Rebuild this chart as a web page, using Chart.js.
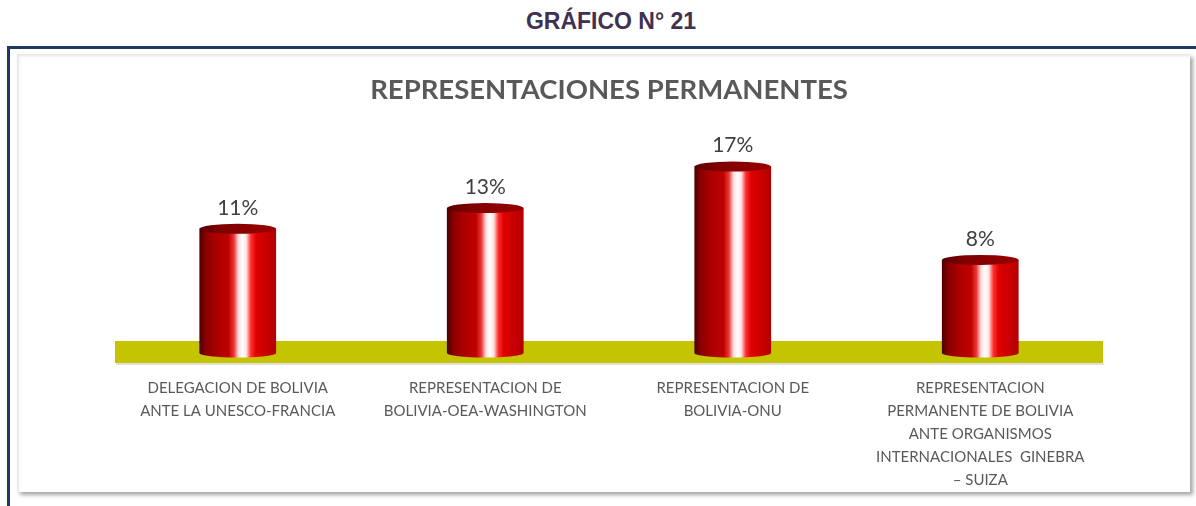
<!DOCTYPE html>
<html>
<head>
<meta charset="utf-8">
<script src="https://cdn.jsdelivr.net/npm/chart.js@4.4.1/dist/chart.umd.min.js"></script>
<style>
  html, body { margin: 0; padding: 0; background: #fff; }
  #page { position: relative; width: 1196px; height: 506px; overflow: hidden; }
  #heading {
    position: absolute; left: 0; width: 1222px; top: 8px; text-align: center;
    font: bold 23px "Liberation Sans", Arial, sans-serif; color: #403152;
  }
  #frame {
    position: absolute; left: 7px; top: 46px; width: 1200px; height: 480px;
    border-top: 3px solid #1f3864; border-left: 3px solid #1f3864;
  }
  #panel {
    position: absolute; left: 17px; top: 54px; width: 1173px; height: 438px;
    background: #fff;
    box-shadow: 3px 3px 4px rgba(0,0,0,0.35), inset 2px 2px 3px rgba(0,0,0,0.10);
  }
  #chartBox { position: absolute; left: 0; top: 0; width: 1196px; height: 533px; }
</style>
</head>
<body>
<div id="page">
  <div id="heading">GRÁFICO N° 21</div>
  <div id="frame"></div>
  <div id="panel"></div>
  <div id="chartBox"><canvas id="chart"></canvas></div>
</div>
<script>
// data
const categories = [
  ["DELEGACION DE BOLIVIA", "ANTE LA UNESCO-FRANCIA"],
  ["REPRESENTACION DE", "BOLIVIA-OEA-WASHINGTON"],
  ["REPRESENTACION DE", "BOLIVIA-ONU"],
  ["REPRESENTACION", "PERMANENTE DE BOLIVIA", "ANTE ORGANISMOS", "INTERNACIONALES  GINEBRA", "– SUIZA"]
];
const percentages = [11, 13, 17, 8];

const BAR_PCT = 0.31;
const DEPTH = 10; // cylinders run a bit below the floor line

function bodyGradient(ctx, x0, x1) {
  const g = ctx.createLinearGradient(x0, 0, x1, 0);
  g.addColorStop(0, "#4a0000");
  g.addColorStop(0.08, "#880000");
  g.addColorStop(0.2, "#a80000");
  g.addColorStop(0.38, "#c00000");
  g.addColorStop(0.45, "#e83838");
  g.addColorStop(0.51, "#ffdcdc");
  g.addColorStop(0.56, "#ffffff");
  g.addColorStop(0.61, "#ffe4e4");
  g.addColorStop(0.67, "#ff3030");
  g.addColorStop(0.74, "#e00000");
  g.addColorStop(0.87, "#c80000");
  g.addColorStop(1, "#b40000");
  return g;
}

function capGradient(ctx, x0, x1) {
  const g = ctx.createLinearGradient(x0, 0, x1, 0);
  g.addColorStop(0, "#5a0000");
  g.addColorStop(0.3, "#800000");
  g.addColorStop(1, "#990000");
  return g;
}

const cylinders = {
  id: "cylinders",
  beforeDatasetsDraw(chart) {
    const { ctx, chartArea } = chart;
    ctx.save();
    // floor band
    ctx.fillStyle = "rgba(0,0,0,0.12)";
    ctx.fillRect(chartArea.left + 2, chartArea.bottom + 20, chartArea.width - 2, 2);
    ctx.fillStyle = "#c4c400";
    ctx.fillRect(chartArea.left + 1, chartArea.bottom - 2, chartArea.width - 2, 22);
    // lower part of each cylinder
    chart.getDatasetMeta(0).data.forEach((bar) => {
      const x0 = bar.x - bar.width / 2, x1 = bar.x + bar.width / 2;
      ctx.fillStyle = bodyGradient(ctx, x0, x1);
      ctx.fillRect(x0, bar.base - 1, bar.width, DEPTH + 1);
      ctx.beginPath();
      ctx.ellipse(bar.x, bar.base + DEPTH, bar.width / 2, 4.5, 0, 0, Math.PI);
      ctx.fill();
    });
    ctx.restore();
  },
  afterDatasetsDraw(chart) {
    const { ctx } = chart;
    ctx.save();
    chart.getDatasetMeta(0).data.forEach((bar, i) => {
      const x0 = bar.x - bar.width / 2, x1 = bar.x + bar.width / 2;
      ctx.fillStyle = capGradient(ctx, x0, x1);
      ctx.beginPath();
      ctx.ellipse(bar.x, bar.y, bar.width / 2, 5, 0, 0, Math.PI * 2);
      ctx.fill();
      // value label
      ctx.fillStyle = "#404040";
      ctx.font = "21px Lato, sans-serif";
      ctx.textAlign = "center";
      ctx.textBaseline = "middle";
      ctx.fillText(percentages[i] + "%", bar.x, bar.y - 21);
    });
    ctx.restore();
  }
};

const ctx = document.getElementById("chart");
new Chart(ctx, {
  type: "bar",
  data: {
    labels: categories,
    datasets: [{
      data: percentages,
      borderWidth: 0,
      categoryPercentage: 1,
      barPercentage: BAR_PCT,
      backgroundColor: (c) => {
        const chart = c.chart;
        const xs = chart.scales.x;
        if (!chart.chartArea || !xs || c.type !== "data") return "#b00000";
        const cx = xs.getPixelForValue(c.dataIndex);
        const w = (xs.width / categories.length) * BAR_PCT;
        return bodyGradient(chart.ctx, cx - w / 2, cx + w / 2);
      }
    }]
  },
  options: {
    responsive: true,
    maintainAspectRatio: false,
    animation: false,
    layout: { padding: { top: 0, left: 114, right: 92, bottom: 15 } },
    plugins: {
      legend: { display: false },
      tooltip: { enabled: false },
      title: {
        display: true,
        text: "REPRESENTACIONES PERMANENTES",
        color: "#595959",
        font: { family: "Lato", size: 27.5, weight: "bold", lineHeight: 1.2 },
        padding: { top: 74, bottom: 28.4 }
      }
    },
    scales: {
      x: {
        grid: { display: false },
        border: { display: false },
        ticks: {
          color: "#595959",
          font: { family: "Lato", size: 15, lineHeight: 1.5333 },
          padding: 26,
          maxRotation: 0,
          autoSkip: false
        }
      },
      y: { display: false, min: 0, max: 20 }
    }
  },
  plugins: [cylinders]
});
</script>
</body>
</html>
